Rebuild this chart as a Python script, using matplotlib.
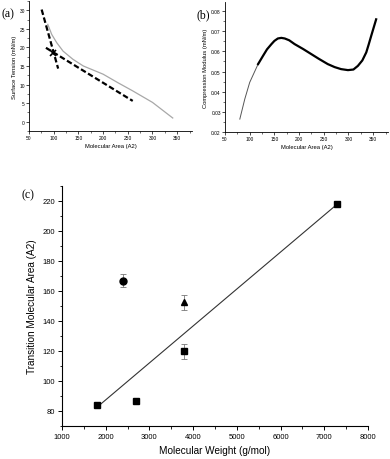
"""Surface tension, compression modulus and transition area figure."""

import matplotlib

matplotlib.use("Agg")

import matplotlib.pyplot as plt
from matplotlib.ticker import MultipleLocator

plt.rcParams["font.family"] = ["Liberation Sans", "DejaVu Sans"]

# (a) isotherm and the two tangent lines
area_a = [88, 96, 106, 119, 139, 160, 180, 200, 230, 260, 300, 341]
tension = [26.2, 23.5, 21.3, 19.0, 16.8, 15.0, 13.9, 12.8, 10.5, 8.3, 5.2, 1.0]
steep_x = [75.6, 109]
steep_y = [30.2, 14.3]
shallow_x = [84.3, 260]
shallow_y = [19.9, 5.6]
cross_x = [99]
cross_y = [18.6]

# (b) compression modulus
area_b = [80, 90, 100, 117, 127, 135, 144, 150, 157, 164, 171, 180, 191, 208, 225, 240,
          258, 272, 285, 299, 310, 319, 328, 336, 341, 346, 351, 356]
modulus = [0.0264, 0.0363, 0.0446, 0.0537, 0.0578, 0.0610, 0.0636, 0.0652, 0.0664, 0.0667,
           0.0664, 0.0655, 0.0636, 0.0612, 0.0586, 0.0563, 0.0537, 0.0522, 0.0512, 0.0507,
           0.0510, 0.0528, 0.0555, 0.0595, 0.0635, 0.0677, 0.0718, 0.0759]

# (c) transition area vs molecular weight
sq_mw = [1800, 2700, 3800, 7300]
sq_area = [84, 87, 120, 218]
sq_err = [0, 0, 5, 0]
circ_mw = [2400]
circ_area = [167]
circ_err = [4.5]
tri_mw = [3800]
tri_area = [152.5]
tri_err = [5]
fit_mw = [1800, 7300]
fit_area = [82.5, 218]


def small_axes(ax):
    for side in ["top", "right"]:
        ax.spines[side].set_visible(False)
    for side in ["left", "bottom"]:
        ax.spines[side].set_linewidth(0.6)
    ax.tick_params(which="major", direction="out", length=2, width=0.5, labelsize=3.5, pad=1)
    ax.tick_params(which="minor", direction="out", length=1.2, width=0.4)


def main() -> None:
    fig = plt.figure(figsize=(3.9, 4.6), dpi=100)

    ax_a = fig.add_axes([29 / 390, 1 - 132 / 460, 163 / 390, 130 / 460])
    ax_a.plot(area_a, tension, color="#a8a8a8", lw=0.9)
    ax_a.plot(steep_x, steep_y, color="black", lw=1.6, ls=(0, (2.5, 1.2)))
    ax_a.plot(shallow_x, shallow_y, color="black", lw=1.6, ls=(0, (2.5, 1.2)))
    ax_a.plot(cross_x, cross_y, marker="x", color="black", ms=4, mew=1.2, ls="none")
    ax_a.set_xlim(50, 380)
    ax_a.set_ylim(-2.5, 32.5)
    ax_a.xaxis.set_major_locator(MultipleLocator(50))
    ax_a.xaxis.set_minor_locator(MultipleLocator(25))
    ax_a.yaxis.set_major_locator(MultipleLocator(5))
    ax_a.yaxis.set_minor_locator(MultipleLocator(2.5))
    small_axes(ax_a)
    ax_a.set_xlabel("Molecular Area (A2)", fontsize=4.2, labelpad=2)
    ax_a.set_ylabel("Surface Tension (mN/m)", fontsize=4.2, labelpad=2)
    fig.text(8 / 390, 1 - 14 / 460, "(a)", family=["Liberation Serif", "DejaVu Serif"],
             fontsize=8.5, ha="center", va="center")

    ax_b = fig.add_axes([225 / 390, 1 - 133 / 460, 163 / 390, 130 / 460])
    ax_b.plot(area_b[:4], modulus[:4], color="#555555", lw=0.7)
    ax_b.plot(area_b[3:], modulus[3:], color="black", lw=1.6)
    ax_b.set_xlim(50, 380)
    ax_b.set_ylim(0.02, 0.0845)
    ax_b.xaxis.set_major_locator(MultipleLocator(50))
    ax_b.xaxis.set_minor_locator(MultipleLocator(25))
    ax_b.yaxis.set_major_locator(MultipleLocator(0.01))
    ax_b.yaxis.set_minor_locator(MultipleLocator(0.005))
    small_axes(ax_b)
    ax_b.set_xlabel("Molecular Area (A2)", fontsize=4.2, labelpad=2)
    ax_b.set_ylabel("Compression Modulus (mN/m)", fontsize=4.2, labelpad=2)
    fig.text(203 / 390, 1 - 15 / 460, "(b)", family=["Liberation Serif", "DejaVu Serif"],
             fontsize=8.5, ha="center", va="center")

    ax_c = fig.add_axes([62 / 390, 1 - 427 / 460, 306 / 390, 240 / 460])
    ax_c.plot(fit_mw, fit_area, color="#333333", lw=0.8)
    err_kw = dict(ls="none", color="black", ecolor="#777777", elinewidth=0.6, capsize=2, capthick=0.6)
    ax_c.errorbar(sq_mw, sq_area, yerr=sq_err, marker="s", ms=4.5, **err_kw)
    ax_c.errorbar(circ_mw, circ_area, yerr=circ_err, marker="o", ms=5, **err_kw)
    ax_c.errorbar(tri_mw, tri_area, yerr=tri_err, marker="^", ms=5, **err_kw)
    ax_c.set_xlim(1000, 8000)
    ax_c.set_ylim(70, 230)
    ax_c.xaxis.set_major_locator(MultipleLocator(1000))
    ax_c.xaxis.set_minor_locator(MultipleLocator(500))
    ax_c.yaxis.set_major_locator(MultipleLocator(20))
    ax_c.yaxis.set_minor_locator(MultipleLocator(10))
    for side in ["top", "right"]:
        ax_c.spines[side].set_visible(False)
    for side in ["left", "bottom"]:
        ax_c.spines[side].set_linewidth(0.8)
    ax_c.tick_params(which="major", direction="out", length=3, width=0.7, labelsize=5.5, pad=2)
    ax_c.tick_params(which="minor", direction="out", length=1.8, width=0.6)
    ax_c.set_xlabel("Molecular Weight (g/mol)", fontsize=7.2, labelpad=4)
    ax_c.set_ylabel("Transition Molecular Area (A2)", fontsize=7.2, labelpad=4)
    fig.text(28 / 390, 1 - 195 / 460, "(c)", family=["Liberation Serif", "DejaVu Serif"],
             fontsize=8.5, ha="center", va="center")

    fig.savefig("out.png", dpi=100)
    plt.close(fig)


if __name__ == "__main__":
    main()
